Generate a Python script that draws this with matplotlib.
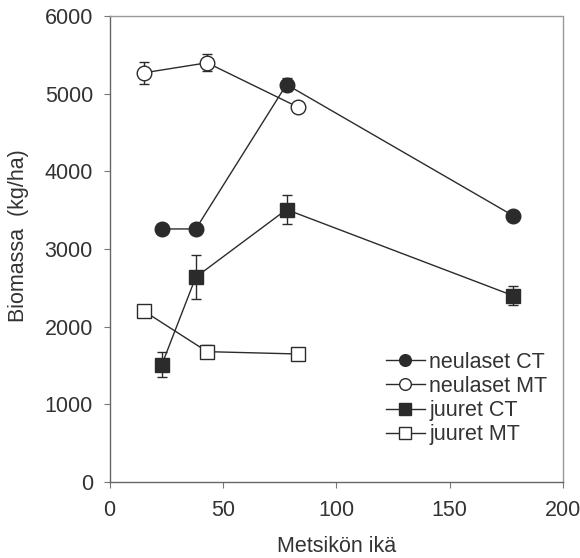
import matplotlib.pyplot as plt

plt.rcParams['font.family'] = ['Liberation Sans', 'DejaVu Sans']

# stand age (years)
ika_neul_ct = [23, 38, 78, 178]
ika_mt = [15, 43, 83]
ika_juur_ct = [23, 38, 78, 178]

# biomass (kg/ha) and standard errors
neulaset_ct = [3260, 3260, 5120, 3430]
neulaset_ct_err = [60, 60, 80, 40]
neulaset_mt = [5270, 5400, 4830]
neulaset_mt_err = [140, 110, 40]
juuret_ct = [1510, 2640, 3510, 2400]
juuret_ct_err = [160, 280, 190, 125]
juuret_mt = [2205, 1680, 1650]
juuret_mt_err = [80, 80, 70]

line_col = '#2b2b2b'
text_col = '#333333'

fig = plt.figure(figsize=(5.8, 5.58), dpi=100)
ax = fig.add_axes([0.189, 0.136, 0.782, 0.835])

common = dict(color=line_col, lw=1.0, ms=10.5, capsize=3.5, elinewidth=1.0,
              capthick=1.0, mec=line_col, mew=1.0)
ax.errorbar(ika_neul_ct, neulaset_ct, yerr=neulaset_ct_err, marker='o',
            mfc=line_col, label='neulaset CT', **common)
ax.errorbar(ika_mt, neulaset_mt, yerr=neulaset_mt_err, marker='o',
            mfc='white', label='neulaset MT', **common)
ax.errorbar(ika_juur_ct, juuret_ct, yerr=juuret_ct_err, marker='s',
            mfc=line_col, label='juuret CT', **common)
ax.errorbar(ika_mt, juuret_mt, yerr=juuret_mt_err, marker='s',
            mfc='white', label='juuret MT', **common)

ax.set_xlim(0, 200)
ax.set_ylim(0, 6000)
ax.set_xticks([0, 50, 100, 150, 200])
ax.set_yticks(range(0, 6001, 1000))
ax.tick_params(direction='out', length=4, width=0.8, color='#777777',
               labelsize=15.5, labelcolor=text_col)
ax.tick_params(axis='x', pad=9)
ax.tick_params(axis='y', pad=8)
for s in ['left', 'bottom']:
    ax.spines[s].set_color('#666666')
    ax.spines[s].set_linewidth(1.0)
for s in ['top', 'right']:
    ax.spines[s].set_color('#999999')
    ax.spines[s].set_linestyle((0, (1, 1)))
    ax.spines[s].set_linewidth(1.0)

ax.set_xlabel('Metsikön ikä', fontsize=15.5, color=text_col, labelpad=11)
ax.set_ylabel('Biomassa  (kg/ha)', fontsize=15.5, color=text_col)
ax.yaxis.set_label_coords(-0.1775, 0.53)

handles, labels = ax.get_legend_handles_labels()
handles = [h[0] for h in handles]
leg = ax.legend(handles, labels, loc='lower right', bbox_to_anchor=(0.965, 0.079),
                frameon=False, fontsize=15.5, handlelength=1.8, markerscale=0.8,
                handletextpad=0.2, labelspacing=0.15, borderpad=0,
                borderaxespad=0)
for t in leg.get_texts():
    t.set_color(text_col)

fig.savefig('out.png', dpi=100)
